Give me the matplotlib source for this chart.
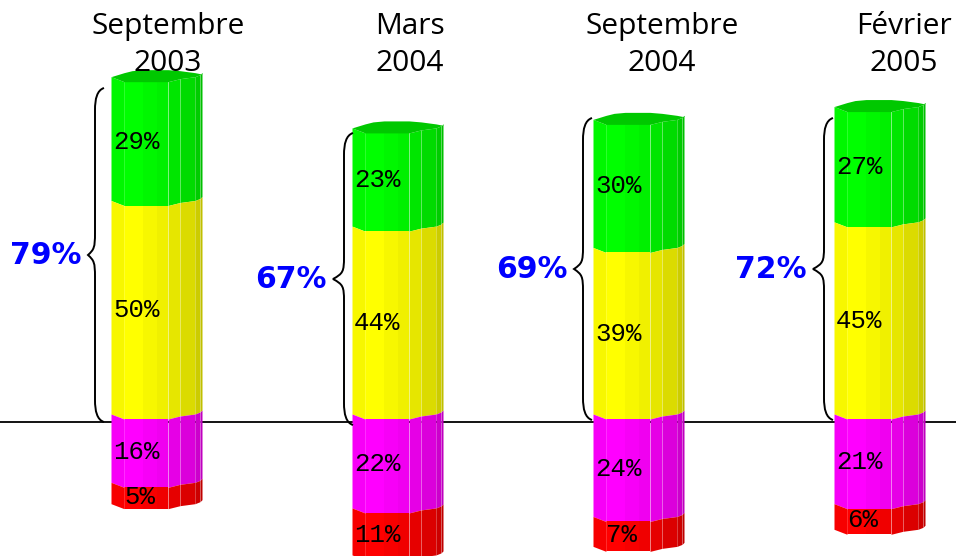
import matplotlib
matplotlib.use('Agg')
import matplotlib.pyplot as plt
from matplotlib.patches import PathPatch
from matplotlib.path import Path
from matplotlib.colors import to_rgb

# Data
periods = ['Septembre\n2003', 'Mars\n2004', 'Septembre\n2004', 'Février\n2005']
green = [29, 23, 30, 27]
yellow = [50, 44, 39, 45]
magenta = [16, 22, 24, 21]
red = [5, 11, 7, 6]
totals = [79, 67, 69, 72]

# Layout, in pixels of the 956x556 picture
W, H = 956, 556
ZERO_PX = 419
PX_PER_PCT = 4.27
BAR_LEFT = [111, 352, 593, 834]
TITLE_X = [168, 410, 662, 904]
SPINE_X = [95, 344, 583, 824]
TIP_X = [88, 333, 574, 813]
BRACE_TOP = [88, 133, 118, 118]
BRACE_BOTTOM = [422, 425, 420, 420]

# Facets of the fake cylinder
facet_x = [0, 13, 21, 32, 46, 57, 69, 84, 89, 91]
wave = [-5, 0, 0, 0, 0, 0, -3, -5, -7, -9]
back = [-5, -9, -11, -12, -12, -12, -11, -9, -8, -8]
shade = [0.97, 1.0, 1.0, 0.97, 0.94, 0.90, 0.86, 0.80, 0.75]


def px(v):
    return v / PX_PER_PCT


def y_of(pixel):
    return (ZERO_PX - pixel) / PX_PER_PCT


fig = plt.figure(figsize=(W / 100, H / 100), dpi=100)
ax = fig.add_axes([0, 0, 1, 1])
ax.set_xlim(0, W)
ax.set_ylim(-(H - ZERO_PX) / PX_PER_PCT, ZERO_PX / PX_PER_PCT)
ax.axis('off')

ax.axhline(px(-3), color='black', lw=1.3, zorder=1)


def draw_segment(left, low, high, color):
    r, g, b = to_rgb(color)
    for i in range(len(shade)):
        xs = [left + facet_x[i], left + facet_x[i + 1]]
        lows = [low - px(wave[i]), low - px(wave[i + 1])]
        highs = [high - px(wave[i]), high - px(wave[i + 1])]
        s = shade[i]
        ax.fill_between(xs, lows, highs, color=(r * s, g * s, b * s), lw=0, zorder=2)
    for j in (1, 6, 8):
        xj = left + facet_x[j]
        ax.plot([xj, xj], [low - px(wave[j]), high - px(wave[j])],
                color='white', alpha=0.18, lw=0.7, zorder=3)


def draw_brace(spine, tip, top, bottom):
    mid = (top + bottom) / 2
    r = px(22)
    verts = [
        (spine + 9, top), (spine + 2, top - r * 0.1), (spine, top - r / 2), (spine, top - r),
        (spine, mid + r), (spine, mid + r / 3), (spine - 1, mid + r / 4), (tip, mid),
        (spine - 1, mid - r / 4), (spine, mid - r / 3), (spine, mid - r),
        (spine, bottom + r), (spine, bottom + r / 2), (spine + 2, bottom + r * 0.1), (spine + 9, bottom),
    ]
    codes = [Path.MOVETO, Path.CURVE4, Path.CURVE4, Path.CURVE4,
             Path.LINETO, Path.CURVE4, Path.CURVE4, Path.CURVE4,
             Path.CURVE4, Path.CURVE4, Path.CURVE4,
             Path.LINETO, Path.CURVE4, Path.CURVE4, Path.CURVE4]
    ax.add_patch(PathPatch(Path(verts, codes), fill=False, ec='black', lw=1.4, zorder=4))
    return mid


def pct_label(left, value, mid):
    offset = 2 if value >= 10 else 13
    ax.text(left + offset, mid, f'{value}%', family='Liberation Mono', fontsize=18.5,
            ha='left', va='center', color='black', zorder=6)


for i, left in enumerate(BAR_LEFT):
    y_top = yellow[i] + green[i]
    draw_segment(left, yellow[i], y_top, '#00ff00')
    draw_segment(left, 0, yellow[i], '#ffff00')
    draw_segment(left, -magenta[i], 0, '#ff00ff')
    draw_segment(left, -magenta[i] - red[i], -magenta[i], '#ff0000')

    # lid of the cylinder
    xs = [left + x for x in facet_x]
    front = [y_top - px(w) for w in wave]
    rear = [y_top - px(b) for b in back]
    ax.fill_between(xs, front, rear, color='#00c800', lw=0, zorder=3)

    mid = draw_brace(SPINE_X[i], TIP_X[i], y_of(BRACE_TOP[i]), y_of(BRACE_BOTTOM[i]))

    pct_label(left, green[i], yellow[i] + green[i] / 2 + px(2))
    pct_label(left, yellow[i], yellow[i] / 2 + px(2))
    pct_label(left, magenta[i], -magenta[i] / 2 + px(1.5))
    pct_label(left, red[i], -magenta[i] - red[i] / 2 + px(1))

    ax.text(TIP_X[i] - 6, mid, f'{totals[i]}%', family='DejaVu Sans',
            fontweight='bold', fontsize=21.5, color='#0000ff',
            ha='right', va='center', zorder=6)

    ax.text(TITLE_X[i], y_of(45), periods[i], family='Open Sans', fontsize=21.5,
            ha='center', va='center', linespacing=1.38, color='black', zorder=7)

fig.savefig('out.png', dpi=100)
